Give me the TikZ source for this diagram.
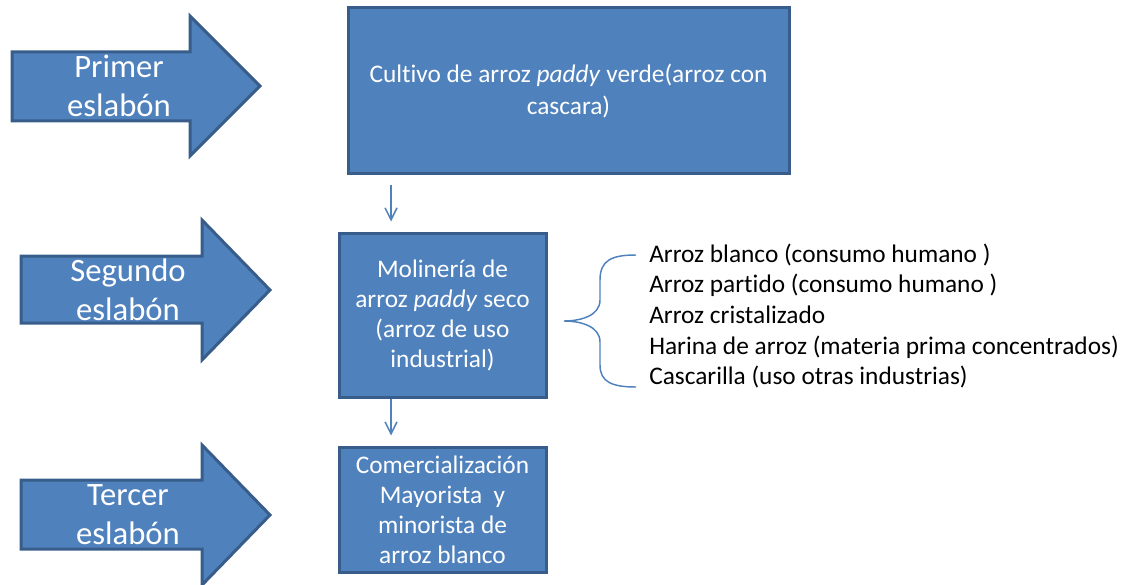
\documentclass[tikz,border=0pt]{standalone}
\usepackage{fontspec}
\setmainfont{Carlito}[RawFeature={-liga}]
\usepackage{xcolor}
\usetikzlibrary{shapes, arrows.meta, positioning}
\definecolor{linkfill}{HTML}{4F81BD}
\definecolor{linkdraw}{HTML}{385D8A}

\begin{document}
\begin{tikzpicture}
  [
    x=0.75pt, y=-0.75pt,
    Link/.style={draw=linkdraw, fill=linkfill, line width=2.25pt},
    LinkText/.style={text=white, align=center, font=\fontsize{24.5}{29.25}\selectfont},
    Box/.style={rectangle, draw=linkdraw, fill=linkfill, line width=2.25pt, text=white, align=center, inner sep=0pt, font=\fontsize{19}{22.5}\selectfont},
    Item/.style={anchor=west, align=left, inner sep=0pt, font=\fontsize{19}{23}\selectfont},
    Flow/.style={-{Straight Barb[length=9pt, width=9pt]}, draw=linkfill, line width=1.1pt},
    Brace/.style={draw=linkfill, line width=1.1pt}
  ]
  \useasboundingbox (0, 0) rectangle (1125, 585);

  % Links (big arrows)
  \path[Link] (12, 52) -- (190, 52) -- (190, 16) -- (260, 86) -- (190, 156) -- (190, 121) -- (12, 121) -- cycle;
  \path[Link] (21, 256) -- (202, 256) -- (202, 220) -- (270, 290) -- (202, 360) -- (202, 323) -- (21, 323) -- cycle;
  \path[Link] (21, 480) -- (202, 480) -- (202, 445) -- (270, 515) -- (202, 585) -- (202, 549) -- (21, 549) -- cycle;
  \node[LinkText] (e1) at(119, 86) {Primer\\eslabón};
  \node[LinkText] (e2) at(128, 290) {Segundo\\eslabón};
  \node[LinkText] (e3) at(128, 515) {Tercer\\eslabón};

  % Nodes (x, y)
  \node[Box, minimum width=330.75pt, minimum height=123.75pt, font=\fontsize{19}{24}\selectfont] (b1) at(568.5, 90.5)
    {Cultivo de arroz \textit{paddy} verde(arroz con\\cascara)};
  \node[Box, minimum width=155.25pt, minimum height=123pt] (b2) at(442.5, 315)
    {Molinería de\\arroz \textit{paddy} seco\\(arroz de uso\\industrial)};
  \node[Box, minimum width=155.25pt, minimum height=93.75pt] (b3) at(442.5, 509.5)
    {Comercialización\\Mayorista~ y\\minorista de\\arroz blanco};
  \node[Item] (p1) at(649, 316)
    {Arroz blanco (consumo humano )\\Arroz partido (consumo humano )\\Arroz cristalizado\\Harina de arroz (materia prima concentrados)\\Cascarilla (uso otras industrias)};
  \coordinate (k1) at(391, 0);

  % Lines
  % cultivo -> molinería
  \path [Flow, shorten <=7.5pt, shorten >=7.5pt] (b1.south -| k1) -- (b2.north -| k1);
  % molinería -> comercialización
  \path [Flow, shorten >=7.5pt] (b2.south -| k1) -- (b3.north -| k1);
  % brace to the products
  \path [Brace] (636, 255) .. controls (612, 255) and (600, 260) .. (600, 280) -- (600, 300)
    .. controls (600, 316) and (580, 321) .. (564, 321)
    .. controls (580, 321) and (600, 326) .. (600, 342) -- (600, 365)
    .. controls (600, 382) and (612, 387) .. (636, 387);

\end{tikzpicture}
\end{document}
